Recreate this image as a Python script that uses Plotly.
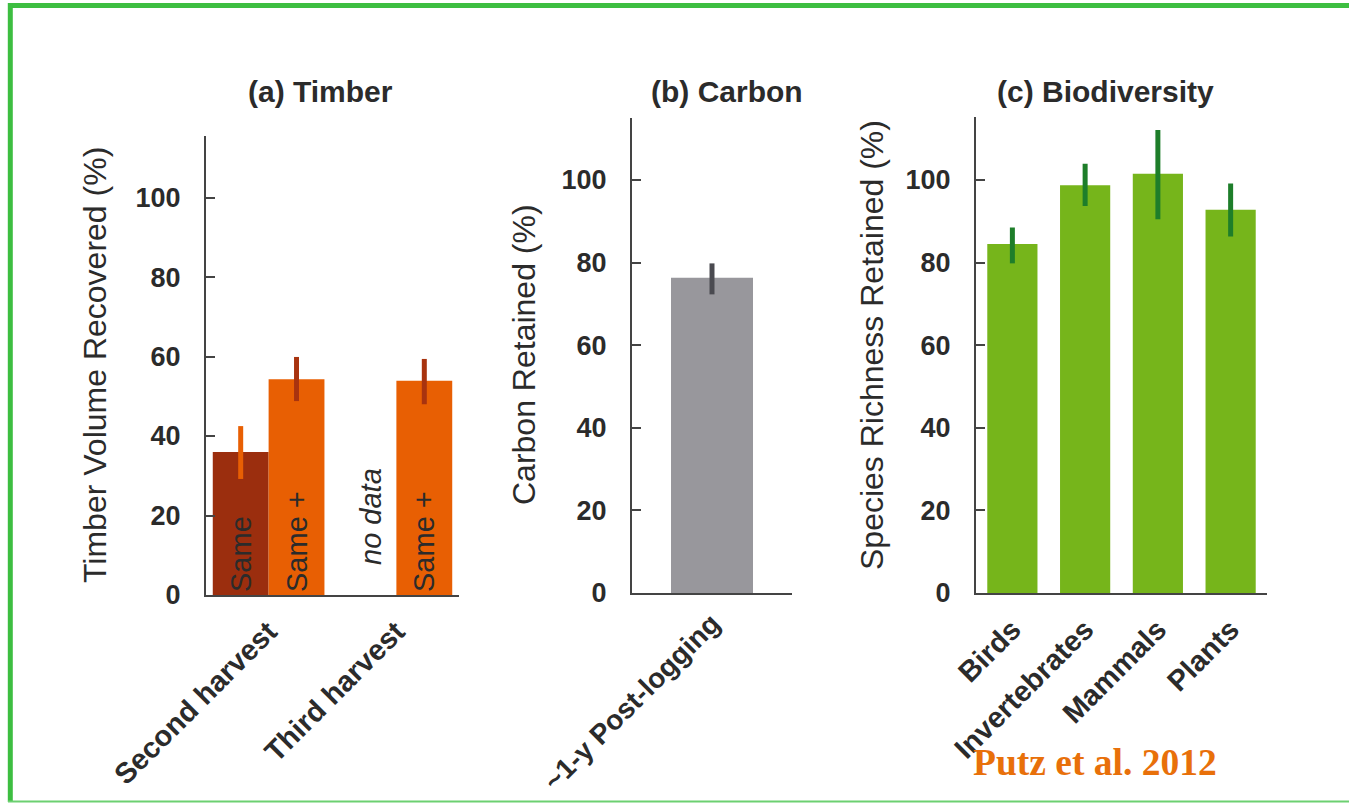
import plotly.graph_objects as go

# ---------------- data ----------------
timber_categories = ["Second harvest", "Third harvest"]
timber_same = [36.0, None]
timber_same_hi = [42.5, None]
timber_same_lo = [29.2, None]
timber_same_plus = [54.3, 53.9]
timber_same_plus_hi = [59.9, 59.4]
timber_same_plus_lo = [48.8, 48.0]

carbon_categories = ["~1-y Post-logging"]
carbon_values = [76.3]
carbon_hi = [79.8]
carbon_lo = [72.3]

bio_categories = ["Birds", "Invertebrates", "Mammals", "Plants"]
bio_values = [84.5, 98.7, 101.5, 92.8]
bio_hi = [88.5, 103.9, 112.1, 99.1]
bio_lo = [79.8, 93.7, 90.5, 86.3]

y_ticks = [0, 20, 40, 60, 80, 100]

# ---------------- layout helpers ----------------
W, H = 1349, 803


def fx(px):
    return px / W


def fy(py):
    return 1 - py / H


FONT = "Liberation Sans, Arial, sans-serif"
TXT = "#2b2b2b"
AX = "#444444"

C_SAME = "#9B2E0E"
C_SAMEP = "#E85F03"
C_CARBON = "#98979C"
C_CARBON_ERR = "#4A4A50"
C_BIO = "#76B51B"
C_BIO_ERR = "#1E7E2A"


def err(vals, hi, lo):
    up = [None if v is None else h - v for v, h in zip(vals, hi)]
    dn = [None if v is None else v - l for v, l in zip(vals, lo)]
    return up, dn


fig = go.Figure()

# Panel (a)
up, dn = err(timber_same, timber_same_hi, timber_same_lo)
fig.add_trace(go.Bar(
    x=timber_categories, y=timber_same, xaxis="x", yaxis="y",
    offset=-0.437, width=0.437, marker=dict(color=C_SAME, line=dict(width=0)),
    text=["Same", ""], textposition="inside", insidetextanchor="start",
    textangle=-90, textfont=dict(family=FONT, size=29, color=TXT),
    error_y=dict(type="data", symmetric=False, array=up, arrayminus=dn,
                 color=C_SAMEP, thickness=5, width=0),
    showlegend=False, cliponaxis=False,
))
up, dn = err(timber_same_plus, timber_same_plus_hi, timber_same_plus_lo)
fig.add_trace(go.Bar(
    x=timber_categories, y=timber_same_plus, xaxis="x", yaxis="y",
    offset=0.0, width=0.437, marker=dict(color=C_SAMEP, line=dict(width=0)),
    text=["Same +", "Same +"], textposition="inside", insidetextanchor="start",
    textangle=-90, textfont=dict(family=FONT, size=29, color=TXT),
    error_y=dict(type="data", symmetric=False, array=up, arrayminus=dn,
                 color="#A8330F", thickness=5, width=0),
    showlegend=False, cliponaxis=False,
))

# Panel (b)
up, dn = err(carbon_values, carbon_hi, carbon_lo)
fig.add_trace(go.Bar(
    x=carbon_categories, y=carbon_values, xaxis="x2", yaxis="y2",
    width=0.5125, marker=dict(color=C_CARBON, line=dict(width=0)),
    error_y=dict(type="data", symmetric=False, array=up, arrayminus=dn,
                 color=C_CARBON_ERR, thickness=5, width=0),
    showlegend=False, cliponaxis=False,
))

# Panel (c)
up, dn = err(bio_values, bio_hi, bio_lo)
fig.add_trace(go.Bar(
    x=bio_categories, y=bio_values, xaxis="x3", yaxis="y3",
    width=0.69, marker=dict(color=C_BIO, line=dict(width=0)),
    error_y=dict(type="data", symmetric=False, array=up, arrayminus=dn,
                 color=C_BIO_ERR, thickness=5, width=0),
    showlegend=False, cliponaxis=False,
))


def xaxis_style(size, standoff):
    return dict(
        showline=True, linecolor=AX, linewidth=2, ticks="", showgrid=False,
        zeroline=False, tickangle=-45, ticklabelstandoff=standoff, automargin=False,
        tickfont=dict(family=FONT, size=size, color=TXT, weight="bold"),
        fixedrange=True,
    )


ycommon = dict(
    showline=True, linecolor=AX, linewidth=2, ticks="inside", ticklen=9,
    tickwidth=2, tickcolor=AX, showgrid=False, zeroline=False,
    tickvals=y_ticks, ticklabelstandoff=18, automargin=False,
    tickfont=dict(family=FONT, size=27, color=TXT, weight="bold"),
    fixedrange=True,
)

fig.update_layout(
    template="none",
    width=W, height=H, margin=dict(l=0, r=0, t=0, b=0, pad=0),
    paper_bgcolor="white", plot_bgcolor="rgba(0,0,0,0)",
    barmode="overlay",
    xaxis=dict(domain=[fx(206), fx(459)], range=[-0.49, 1.49], anchor="y", **xaxis_style(29, 6)),
    yaxis=dict(domain=[fy(595), fy(136)], range=[0, 115.5], anchor="x", **ycommon),
    xaxis2=dict(domain=[fx(632), fx(792)], range=[-0.5, 0.5], anchor="y2", **xaxis_style(28, 1)),
    yaxis2=dict(domain=[fy(593), fy(118)], range=[0, 115], anchor="x2", **ycommon),
    xaxis3=dict(domain=[fx(976), fx(1267)], range=[-0.5, 3.5], anchor="y3", **xaxis_style(29, 6)),
    yaxis3=dict(domain=[fy(593), fy(116.7)], range=[0, 115.3], anchor="x3", **ycommon),
)

annotations = []
# panel titles
for txt, cx in [("(a) Timber", 320.5), ("(b) Carbon", 727), ("(c) Biodiversity", 1105.5)]:
    annotations.append(dict(
        text=txt, x=fx(cx), y=fy(91), xref="paper", yref="paper",
        xanchor="center", yanchor="middle", showarrow=False,
        font=dict(family=FONT, size=30, color=TXT, weight="bold"),
    ))
# y axis titles
for txt, cx, cy in [("Timber Volume Recovered (%)", 95, 365),
                    ("Carbon Retained (%)", 524, 355),
                    ("Species Richness Retained (%)", 872, 345)]:
    annotations.append(dict(
        text=txt, x=fx(cx), y=fy(cy), xref="paper", yref="paper",
        xanchor="center", yanchor="middle", showarrow=False, textangle=-90,
        font=dict(family=FONT, size=32, color=TXT),
    ))
# no data label
annotations.append(dict(
    text="<i>no data</i>", x=fx(371), y=fy(517), xref="paper", yref="paper",
    xanchor="center", yanchor="middle", showarrow=False, textangle=-90,
    font=dict(family=FONT, size=29, color=TXT),
))
# citation
annotations.append(dict(
    text="<b>Putz et al. 2012</b>", x=fx(1095), y=fy(762), xref="paper", yref="paper",
    xanchor="center", yanchor="middle", showarrow=False,
    font=dict(family="Liberation Serif, Times New Roman, serif", size=37.5, color="#E8700A"),
))
fig.update_layout(annotations=annotations)

# green frame
GREEN = "#3DBE41"
fig.update_layout(shapes=[
    dict(type="line", xref="paper", yref="paper", x0=fx(8), x1=fx(1360), y0=fy(5.5), y1=fy(5.5),
         line=dict(color=GREEN, width=5)),
    dict(type="line", xref="paper", yref="paper", x0=fx(10.3), x1=fx(10.3), y0=fy(3), y1=fy(802),
         line=dict(color=GREEN, width=5)),
    dict(type="line", xref="paper", yref="paper", x0=fx(8), x1=fx(1360), y0=fy(801.5), y1=fy(801.5),
         line=dict(color="#6CD071", width=2)),
])

fig.write_html("out.html", config={"displayModeBar": False},
               post_script="document.body.style.margin='0';")
